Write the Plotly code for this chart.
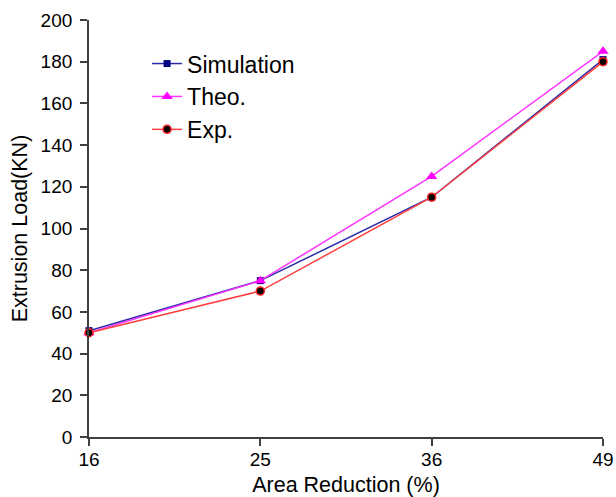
import plotly.graph_objects as go

categories = ["16", "25", "36", "49"]
simulation = [51, 75, 115, 181]
theo = [50, 75, 125, 185]
exp = [50, 70, 115, 180]
y_ticks = list(range(0, 201, 20))

fig = go.Figure()
fig.add_trace(go.Scatter(
    x=categories, y=simulation, name="Simulation", mode="lines+markers",
    line=dict(color="#2a2aa8", width=1.5),
    marker=dict(symbol="square", size=7, color="#000080"),
    cliponaxis=False))
fig.add_trace(go.Scatter(
    x=categories, y=theo, name="Theo.", mode="lines+markers",
    line=dict(color="#ff33ff", width=1.5),
    marker=dict(symbol="triangle-up", size=10, color="#ff00ff"),
    cliponaxis=False))
fig.add_trace(go.Scatter(
    x=categories, y=exp, name="Exp.", mode="lines+markers",
    line=dict(color="#ff4040", width=1.5),
    marker=dict(symbol="circle", size=8, color="black", line=dict(color="#ff2020", width=1.5)),
    cliponaxis=False))

fig.update_layout(
    width=616, height=497,
    margin=dict(l=89, r=13, t=20, b=60),
    plot_bgcolor="white", paper_bgcolor="white",
    font=dict(family="Liberation Sans, Arial, sans-serif", size=19, color="black"),
    showlegend=True,
    legend=dict(x=0.113, y=0.947, xanchor="left", yanchor="top",
                font=dict(size=23), bgcolor="rgba(0,0,0,0)", tracegroupgap=0,
                itemwidth=30),
)
fig.update_xaxes(
    type="category", range=[0, 3], automargin=False,
    showline=True, linecolor="#404040", linewidth=1.8,
    ticks="outside", ticklen=7, tickcolor="#404040", tickwidth=1.5,
    ticklabelstandoff=-3,
    showgrid=False, zeroline=False,
    title=dict(text="Area Reduction (%)", font=dict(size=21.5), standoff=9),
    tickfont=dict(size=19))
fig.update_yaxes(
    range=[0, 200], tickvals=y_ticks, automargin=False,
    showline=True, linecolor="#404040", linewidth=1.8,
    ticks="outside", ticklen=7, tickcolor="#404040", tickwidth=1.5,
    ticklabelstandoff=4,
    showgrid=False, zeroline=False,
    title=dict(text="Extrusion Load(KN)", font=dict(size=21.5), standoff=7),
    tickfont=dict(size=19))

fig.write_html("out.html")
